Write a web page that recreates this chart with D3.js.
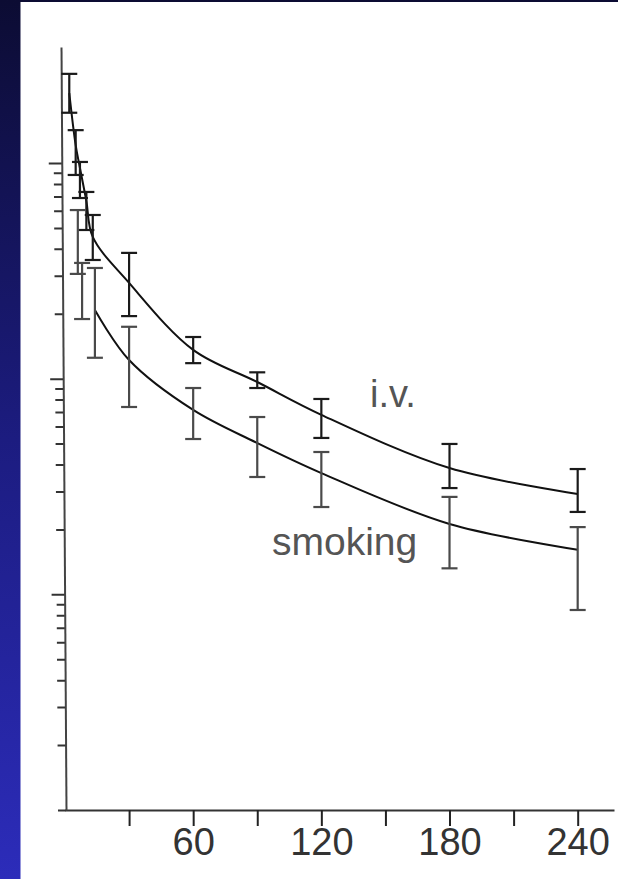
<!DOCTYPE html>
<html>
<head>
<meta charset="utf-8">
<script src="https://cdn.jsdelivr.net/npm/d3@7"></script>
<style>
  html, body { margin: 0; padding: 0; background: #fff; }
  svg { display: block; }
</style>
</head>
<body>
<svg id="chart" width="618" height="879"></svg>
<script>
// ---------- data ----------
// time after dose, minutes
const ivTimes  = [2, 5, 7, 10, 13, 30, 60, 90, 120, 180, 240];
const ivMean   = [2110, 1210, 948, 666, 454, 278, 136, 96.5, 68, 38.5, 29.2];
const ivHigh   = [2590, 1420, 1011, 734, 574, 383, 156, 107, 80.5, 49.8, 38.1];
const ivLow    = [1710, 880, 688, 489, 355, 195, 118, 90.5, 53.1, 31.1, 24.1];

const smTimes  = [6, 8, 14, 30, 60, 90, 120, 180, 240];
const smMean   = [440, 258, 208, 122, 71.6, 50.3, 36.5, 21.2, 16.1];
const smHigh   = [605, 344, 326, 174, 90.5, 66.4, 45.7, 28.3, 20.5];
const smLow    = [306, 189, 125, 73.9, 52.5, 35.0, 25.4, 13.2, 8.46];
const smCurveFrom = 14; // fitted smoking curve drawn from this time on

const xTickValues = [30, 60, 90, 120, 150, 180, 210, 240];
const xTickLabels = ["", "60", "", "120", "", "180", "", "240"];
const yTickValues = [];
[1, 10, 100].forEach(d => { for (let k = 1; k <= 9; k++) yTickValues.push(d * k); });
yTickValues.push(1000);
const yMajor = [10, 100, 1000];

const seriesLabels = ["i.v.", "smoking"];

// ---------- drawing ----------
const svg = d3.select("#chart");
const W = 618, H = 879;

const defs = svg.append("defs");
const grad = defs.append("linearGradient").attr("id", "bg")
  .attr("x1", 0).attr("y1", 0).attr("x2", 0).attr("y2", 1);
grad.append("stop").attr("offset", "0%").attr("stop-color", "#0c0c33");
grad.append("stop").attr("offset", "50%").attr("stop-color", "#1c1c80");
grad.append("stop").attr("offset", "100%").attr("stop-color", "#2c2cba");
svg.append("rect").attr("width", W).attr("height", H).attr("fill", "url(#bg)");
svg.append("rect").attr("x", 20.5).attr("y", 2).attr("width", W - 20.5).attr("height", H - 2).attr("fill", "#fff");

const x = d3.scaleLinear().domain([0, 257]).range([65, 614]);
const y = d3.scaleLog().domain([1, 3450]).range([810, 47]);

// x axis
const xAxis = svg.append("g").attr("transform", "translate(0,810)")
  .call(d3.axisBottom(x).tickValues(xTickValues).tickSize(16).tickSizeOuter(0).tickPadding(2)
    .tickFormat((d, i) => xTickLabels[i]));
xAxis.select(".domain").attr("stroke", "#333").attr("stroke-width", 2);
xAxis.selectAll(".tick line").attr("stroke", "#222").attr("stroke-width", 2);
xAxis.selectAll(".tick text")
  .attr("font-family", "'Liberation Sans', Arial, sans-serif")
  .attr("font-size", 38).attr("fill", "#333");

// y axis (slightly tilted, as scanned)
const yAxisG = svg.append("g").attr("transform", "translate(60.7,0) skewX(0.375)")
  .call(d3.axisLeft(y).tickValues(yTickValues).tickSizeOuter(0).tickFormat(""));
yAxisG.select(".domain").attr("stroke", "#444").attr("stroke-width", 2);
yAxisG.selectAll(".tick line")
  .attr("x2", d => yMajor.includes(d) ? -13 : -8)
  .attr("stroke", "#333").attr("stroke-width", 2);

// curves
const line = d3.line().x(d => x(d.t)).y(d => y(d.v)).curve(d3.curveCatmullRom.alpha(0.5));
const ivPts = ivTimes.map((t, i) => ({ t, v: ivMean[i] }));
const smPts = smTimes.map((t, i) => ({ t, v: smMean[i] })).filter(d => d.t >= smCurveFrom);

svg.append("path").datum(ivPts).attr("d", line)
  .attr("fill", "none").attr("stroke", "#111").attr("stroke-width", 2);
svg.append("path").datum(smPts).attr("d", line)
  .attr("fill", "none").attr("stroke", "#111").attr("stroke-width", 2);

// error bars
function errorBars(times, lo, hi, color) {
  const g = svg.append("g").attr("stroke", color).attr("stroke-width", 2.2);
  times.forEach((t, i) => {
    const cx = x(t);
    g.append("line").attr("x1", cx).attr("x2", cx).attr("y1", y(hi[i])).attr("y2", y(lo[i]));
    g.append("line").attr("x1", cx - 8).attr("x2", cx + 8).attr("y1", y(hi[i])).attr("y2", y(hi[i]));
    g.append("line").attr("x1", cx - 8).attr("x2", cx + 8).attr("y1", y(lo[i])).attr("y2", y(lo[i]));
  });
}
errorBars(ivTimes, ivLow, ivHigh, "#1a1a1a");
errorBars(smTimes, smLow, smHigh, "#4a4a4a");

// series labels
svg.append("text").attr("x", 370).attr("y", 407)
  .attr("font-family", "'Liberation Sans', Arial, sans-serif").attr("font-size", 38)
  .attr("fill", "#555").text(seriesLabels[0]);
svg.append("text").attr("x", 272).attr("y", 555)
  .attr("font-family", "'Liberation Sans', Arial, sans-serif").attr("font-size", 39)
  .attr("fill", "#555").text(seriesLabels[1]);
</script>
</body>
</html>
